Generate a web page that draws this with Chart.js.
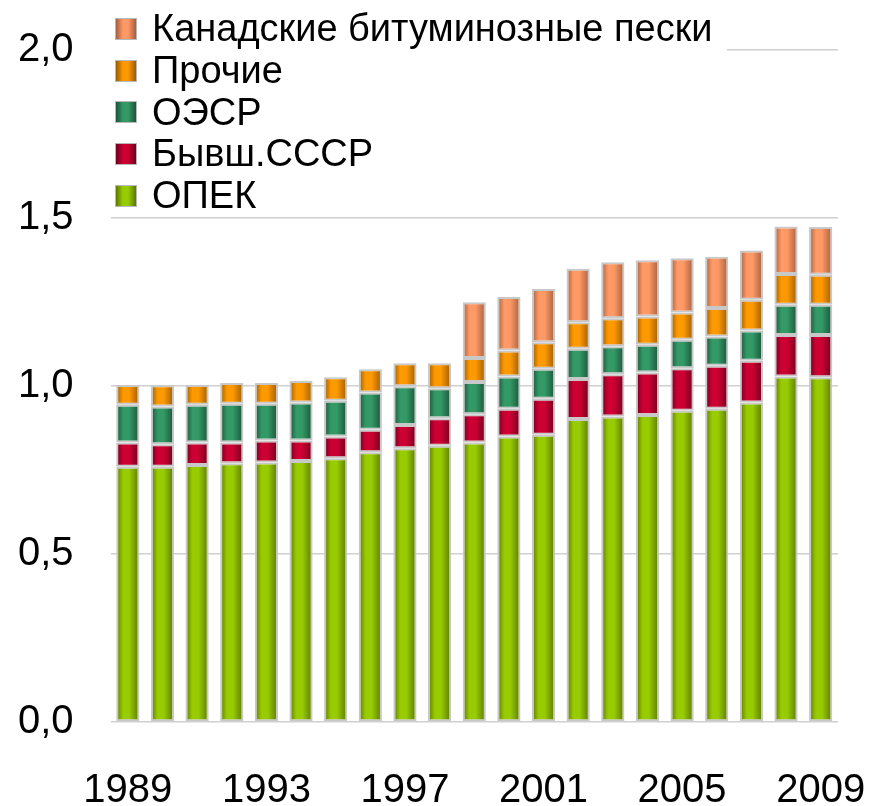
<!DOCTYPE html>
<html>
<head>
<meta charset="utf-8">
<script src="https://cdn.jsdelivr.net/npm/chart.js@4"></script>
<style>
  body { margin: 0; background: #fff; }
  #wrap { position: relative; width: 872px; height: 806px; }
  #legend {
    position: absolute; left: 110px; top: 8px; width: 617px;
    background: #fff; font-family: "Liberation Sans", Arial, sans-serif;
    font-size: 38px; color: #000;
  }
  #legend div { height: 41.7px; display: flex; align-items: center; white-space: nowrap; }
  #legend span.box {
    display: inline-block; width: 20px; height: 20px; margin-left: 5px; margin-right: 15px;
    border: 1px solid #b8b8b8;
  }
</style>
</head>
<body>
<div id="wrap">
  <canvas id="myChart" width="872" height="806"></canvas>
  <div id="legend"></div>
</div>
<script>
const years = ['1989', '1990', '1991', '1992', '1993', '1994', '1995', '1996', '1997', '1998', '1999',
    '2000', '2001', '2002', '2003', '2004', '2005', '2006', '2007', '2008', '2009'];
const shownYears = ['1989', '1993', '1997', '2001', '2005', '2009'];
const yTicks = [0, 0.5, 1.0, 1.5, 2.0];

// значения по годам
const opec = [0.760, 0.760, 0.765, 0.770, 0.772, 0.777, 0.785, 0.803, 0.815, 0.822, 0.832,
    0.850, 0.855, 0.902, 0.909, 0.914, 0.926, 0.932, 0.951, 1.028, 1.026];
const ussr = [0.072, 0.067, 0.067, 0.062, 0.066, 0.061, 0.065, 0.067, 0.069, 0.082, 0.084,
    0.082, 0.107, 0.119, 0.126, 0.126, 0.127, 0.128, 0.124, 0.124, 0.126];
const oecd = [0.112, 0.112, 0.112, 0.115, 0.109, 0.113, 0.106, 0.111, 0.115, 0.089, 0.096,
    0.096, 0.089, 0.090, 0.083, 0.083, 0.085, 0.087, 0.090, 0.090, 0.090];
const other = [0.059, 0.063, 0.059, 0.062, 0.062, 0.064, 0.070, 0.069, 0.069, 0.075, 0.071,
    0.078, 0.079, 0.079, 0.084, 0.084, 0.081, 0.085, 0.092, 0.091, 0.089];
const oilSands = [0, 0, 0, 0, 0, 0, 0, 0, 0, 0, 0.166,
    0.159, 0.159, 0.159, 0.166, 0.167, 0.161, 0.153, 0.146, 0.142, 0.142];

const barFrac = 0.67;

const series = [
    { label: 'ОПЕК', data: opec, color: '#99cc00', dark: '#5a7800' },
    { label: 'Бывш.СССР', data: ussr, color: '#cc0033', dark: '#70001c' },
    { label: 'ОЭСР', data: oecd, color: '#339966', dark: '#1c5238' },
    { label: 'Прочие', data: other, color: '#ff9900', dark: '#9a5c00' },
    { label: 'Канадские битуминозные пески', data: oilSands, color: '#ff9966', dark: '#a35f3e' }
];

function shade(ctx, s) {
    const chart = ctx.chart;
    const x = chart.scales.x;
    if (!chart.chartArea || !x || ctx.dataIndex === undefined) return s.color;
    const cx = x.getPixelForValue(ctx.dataIndex);
    const half = x.width / years.length * barFrac / 2;
    const g = chart.ctx.createLinearGradient(cx - half, 0, cx + half, 0);
    g.addColorStop(0, s.dark);
    g.addColorStop(0.3, s.color);
    g.addColorStop(0.55, s.color);
    g.addColorStop(1, s.dark);
    return g;
}

const data = {
    labels: years,
    datasets: series.map((s) => ({
        label: s.label,
        data: s.data,
        backgroundColor: (ctx) => shade(ctx, s),
        borderColor: '#c8c8c8',
        borderWidth: 2,
        borderSkipped: false,
        categoryPercentage: 1,
        barPercentage: barFrac
    }))
};

const tickFont = { family: '"Liberation Sans", Arial, sans-serif', size: 40 };

const config = {
    type: 'bar',
    data: data,
    options: {
        responsive: false,
        animation: false,
        layout: { padding: { top: 50, right: 34, left: 0, bottom: 0 } },
        plugins: {
            legend: { display: false },
            tooltip: { enabled: false }
        },
        scales: {
            x: {
                stacked: true,
                grid: { display: false, drawTicks: false },
                border: { display: false },
                ticks: {
                    autoSkip: false,
                    maxRotation: 0,
                    padding: 45,
                    color: '#000',
                    font: tickFont,
                    callback: function (v, i) {
                        return shownYears.includes(years[i]) ? years[i] : '';
                    }
                },
                afterFit: (s) => {
                    s.height = 84;
                    s.paddingLeft = 0;
                    s.paddingRight = 0;
                }
            },
            y: {
                stacked: true,
                min: 0,
                max: 2,
                afterBuildTicks: (s) => { s.ticks = yTicks.map((v) => ({ value: v })); },
                grid: { color: '#d0d0d0', lineWidth: 1.5, drawTicks: false },
                border: { display: false },
                ticks: {
                    padding: 37,
                    color: '#000',
                    font: tickFont,
                    callback: (v) => v.toFixed(1).replace('.', ',')
                },
                afterFit: (s) => {
                    s.width = 110.5;
                    s.paddingTop = 0;
                    s.paddingBottom = 0;
                }
            }
        }
    }
};

const myChart = new Chart(document.getElementById('myChart'), config);

// легенда, сверху вниз в обратном порядке
const legend = document.getElementById('legend');
series.slice().reverse().forEach((s) => {
    const row = document.createElement('div');
    const box = document.createElement('span');
    box.className = 'box';
    box.style.background = 'linear-gradient(to right, ' + s.dark + ', ' + s.color + ' 35%, ' + s.color + ' 60%, ' + s.dark + ')';
    row.appendChild(box);
    row.appendChild(document.createTextNode(s.label));
    legend.appendChild(row);
});
</script>
</body>
</html>
